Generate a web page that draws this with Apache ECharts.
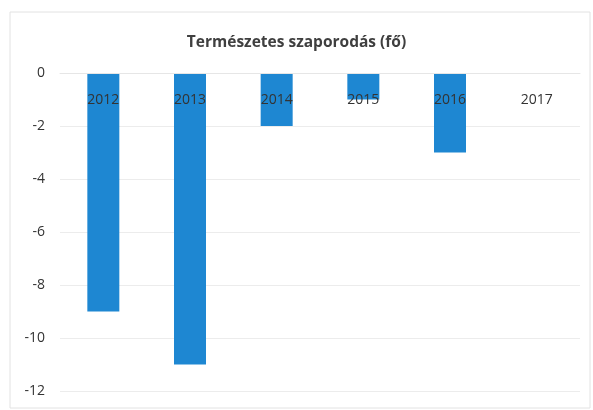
<!DOCTYPE html>
<html>
<head>
<meta charset="utf-8">
<script src="https://cdn.jsdelivr.net/npm/echarts@6/dist/echarts.min.js"></script>
<style>
html,body{margin:0;padding:0;background:#fff;}
#chart{width:593px;height:410px;}
</style>
</head>
<body>
<div id="chart"></div>
<script>
// chart data
var years = ['2012', '2013', '2014', '2015', '2016', '2017']
var natural = [-9, -11, -2, -1, -3, 0]
var titleText = 'Természetes szaporodás (fő)'

var chart = echarts.init(document.getElementById('chart'))
chart.setOption({
    animation: false,
    backgroundColor: '#fff',
    graphic: [{
        type: 'rect',
        shape: {x: 10, y: 12, width: 580, height: 396},
        style: {fill: 'none', stroke: '#e2e2e2', lineWidth: 1},
        silent: true
    }],
    title: {
        text: titleText,
        left: 'center',
        top: 30,
        textStyle: {
            fontFamily: 'Open Sans',
            fontSize: 15.5,
            fontWeight: 'bold',
            color: '#3f3f3f'
        }
    },
    grid: {
        left: 60,
        right: 13,
        top: 73,
        bottom: 19
    },
    xAxis: {
        type: 'category',
        data: years,
        position: 'top',
        z: 3,
        axisLine: {show: true, lineStyle: {color: '#e6e6e6'}},
        axisTick: {show: false},
        axisLabel: {
            inside: true,
            margin: 20,
            fontFamily: 'Open Sans',
            fontSize: 14,
            color: '#333'
        }
    },
    yAxis: {
        type: 'value',
        min: -12,
        max: 0,
        interval: 2,
        axisLine: {show: false},
        axisTick: {show: false},
        splitLine: {lineStyle: {color: '#ececec'}},
        axisLabel: {
            margin: 15,
            fontFamily: 'Open Sans',
            fontSize: 14,
            color: '#333'
        }
    },
    series: [{
        type: 'bar',
        data: natural,
        barWidth: 32,
        itemStyle: {color: '#1e87d2'}
    }]
})
</script>
</body>
</html>
